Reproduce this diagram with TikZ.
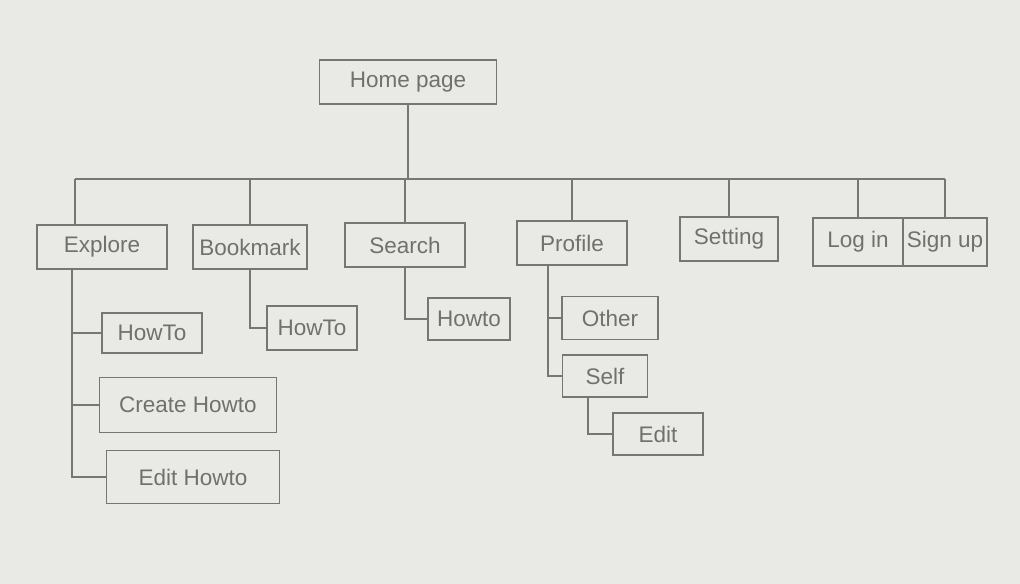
\documentclass[tikz,border=0pt]{standalone}
\usepackage{fontspec}
\setmainfont{Liberation Sans}
\usepackage{xcolor}
\usetikzlibrary{positioning,calc}
\definecolor{paper}{RGB}{233,233,230}
\definecolor{pencil}{RGB}{118,118,116}

\begin{document}
\begin{tikzpicture}[
    x=0.025cm, y=-0.025cm,
    page/.style={draw=pencil, line width=1pt, text=pencil!95!black, inner sep=2pt,
                 font=\fontsize{16}{18}\selectfont, minimum height=1.1cm},
    link/.style={draw=pencil, line width=1pt}
]
\fill[paper] (0,0) rectangle (1020,584);
\useasboundingbox (0,0) rectangle (1020,584);

% top
\node[page, minimum width=4.43cm] (home) at (408,82) {Home page};

% first level
\node[page, minimum width=3.25cm] (explore) at (102,247) {Explore};
\node[page, minimum width=2.85cm] (bookmark) at (250,247) {Bookmark};
\node[page, minimum width=3.0cm] (search) at (405,245) {Search};
\node[page, minimum width=2.75cm] (profile) at (572,243) {Profile};
\node[page, minimum width=2.45cm] (setting) at (729,239) {Setting};
\node[page, minimum width=2.25cm, minimum height=1.2cm] (login) at (858,242) {Log in};
\node[page, minimum width=2.1cm, minimum height=1.2cm] (signup) at (945,242) {Sign up};

% second level
\node[page, minimum width=2.5cm, minimum height=1.0cm] (howtoA) at (152,333) {HowTo};
\node[page, minimum width=4.43cm, minimum height=1.38cm] (createht) at (188,405) {Create Howto};
\node[page, minimum width=4.33cm, minimum height=1.33cm] (editht) at (193,477) {Edit Howto};
\node[page, minimum width=2.25cm] (howtoB) at (312,328) {HowTo};
\node[page, minimum width=2.05cm, minimum height=1.05cm] (howtoC) at (469,319) {Howto};
\node[page, minimum width=2.4cm, minimum height=1.08cm] (other) at (610,318) {Other};
\node[page, minimum width=2.13cm, minimum height=1.05cm] (self) at (605,376) {Self};
\node[page, minimum width=2.25cm, minimum height=1.05cm] (edit) at (658,434) {Edit};

% bus
\coordinate (busL) at (75,179);
\coordinate (busR) at (945,179);
\draw[link] (home.south) -- (home.south |- busL);
\draw[link] (busL) -- (busR);
\draw[link] (busL) -- (busL |- explore.north);
\foreach \n in {bookmark,search,profile,setting,login,signup}
  \draw[link] (\n.north) -- (\n.north |- busL);

% explore
\coordinate (exT) at (72,270);
\draw[link] (exT) |- (editht.west);
\draw[link] (exT |- howtoA.west) -- (howtoA.west);
\draw[link] (exT |- createht.west) -- (createht.west);

% bookmark, search
\draw[link] (bookmark.south) |- (howtoB.west);
\draw[link] (search.south) |- (howtoC.west);

% profile
\coordinate (prT) at (548,265);
\draw[link] (prT) |- (self.west);
\draw[link] (prT |- other.west) -- (other.west);
\draw[link] ([xshift=-12]self.south) |- (edit.west);
\end{tikzpicture}
\end{document}
